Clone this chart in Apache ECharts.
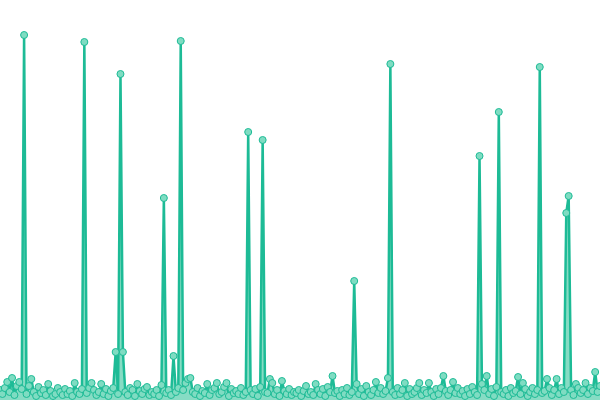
<!DOCTYPE html>
<html>
<head>
<meta charset="utf-8">
<script src="https://cdn.jsdelivr.net/npm/echarts@6/dist/echarts.min.js"></script>
<style>
  html, body { margin: 0; padding: 0; background: #ffffff; }
  #chart { width: 600px; height: 400px; }
</style>
</head>
<body>
<div id="chart"></div>
<script>
const values = [
  2.5, 1.5, 3, 4.5, 2, 5.5, 1.25, 3.5, 4.5, 2.75,
  91.25, 1.5, 3.5, 5.25, 2, 1, 3.25, 1.75, 2.5, 1.25,
  4, 2.25, 1, 1.5, 3, 2, 1.25, 2.75, 1.5, 2.25,
  1, 4.25, 2, 1.5, 2.75, 89.5, 1.75, 3, 4.25, 2.5,
  1.25, 2, 4, 1.5, 2.75, 1, 2.25, 3, 12, 1.5,
  81.5, 12, 2, 1.25, 3, 2.5, 1, 4, 2.25, 1.5,
  2.75, 3.25, 1.25, 2, 1.5, 2.5, 1, 3.75, 50.5, 1.75,
  2.5, 1.25, 11, 2, 3, 89.75, 2.5, 4.25, 5.25, 5.5,
  2, 1.5, 3, 1, 2.25, 1.75, 4, 1.25, 2.5, 3,
  4.25, 1.5, 2, 3.25, 4.25, 1, 2.75, 1.75, 2.25, 1.5,
  3, 1.25, 2, 67, 2.5, 1.5, 2.75, 1, 3.25, 65,
  2, 1.75, 5.25, 4.25, 1.5, 2.5, 1, 4.75, 2.25, 1.5,
  2.75, 1.25, 2, 1.75, 2.5, 1, 2.25, 3.5, 1.5, 2,
  1.25, 4, 2.5, 1.5, 2.75, 1, 3.25, 2, 6, 1.75,
  2.25, 1, 2.5, 1.5, 3, 1.25, 2, 29.75, 4, 1.5,
  2.75, 1, 3.5, 2, 1.25, 2.5, 4.5, 1.75, 3, 1.5,
  2.25, 5.5, 84, 2, 1.25, 3, 1.5, 2.5, 4.25, 1,
  2.75, 1.5, 2, 3, 4.25, 1.25, 2.5, 1.75, 4.25, 2,
  1, 2.75, 1.5, 3, 6, 2.25, 1.25, 2.5, 4.5, 1.75,
  3, 1.5, 2.25, 1, 2.75, 1.5, 3.25, 2, 1.25, 61,
  4, 2.5, 6, 1.5, 2.75, 1, 3.25, 72, 2, 1.5,
  2.5, 1, 3, 1.75, 2.25, 5.75, 1.5, 4.25, 2.75, 1,
  2, 3, 1.5, 2.5, 83.25, 1.75, 2.25, 5.25, 3, 1.25,
  2.5, 5.25, 1.5, 3, 2, 46.75, 51, 2.5, 1.25, 4,
  3, 1.75, 2.5, 4.25, 1.5, 3, 2.25, 7, 2, 3.5
];
const categories = values.map((_, i) => String(i));
const yMin = 0;
const yMax = 100;

const chart = echarts.init(document.getElementById('chart'), null, { renderer: 'canvas' });
chart.setOption({
  animation: false,
  grid: { left: 0, right: 0, top: 0, bottom: 0 },
  xAxis: { type: 'category', data: categories, boundaryGap: false, show: false },
  yAxis: { type: 'value', min: yMin, max: yMax, show: false },
  series: [{
    type: 'line',
    data: values,
    showAllSymbol: true,
    symbol: 'circle',
    symbolSize: 7,
    itemStyle: { color: '#7fdcc2', borderColor: '#1dbb96', borderWidth: 1 },
    lineStyle: { color: '#1dbb96', width: 2.5 },
    areaStyle: { color: '#86dcc4', opacity: 1 }
  }]
});
</script>
</body>
</html>
